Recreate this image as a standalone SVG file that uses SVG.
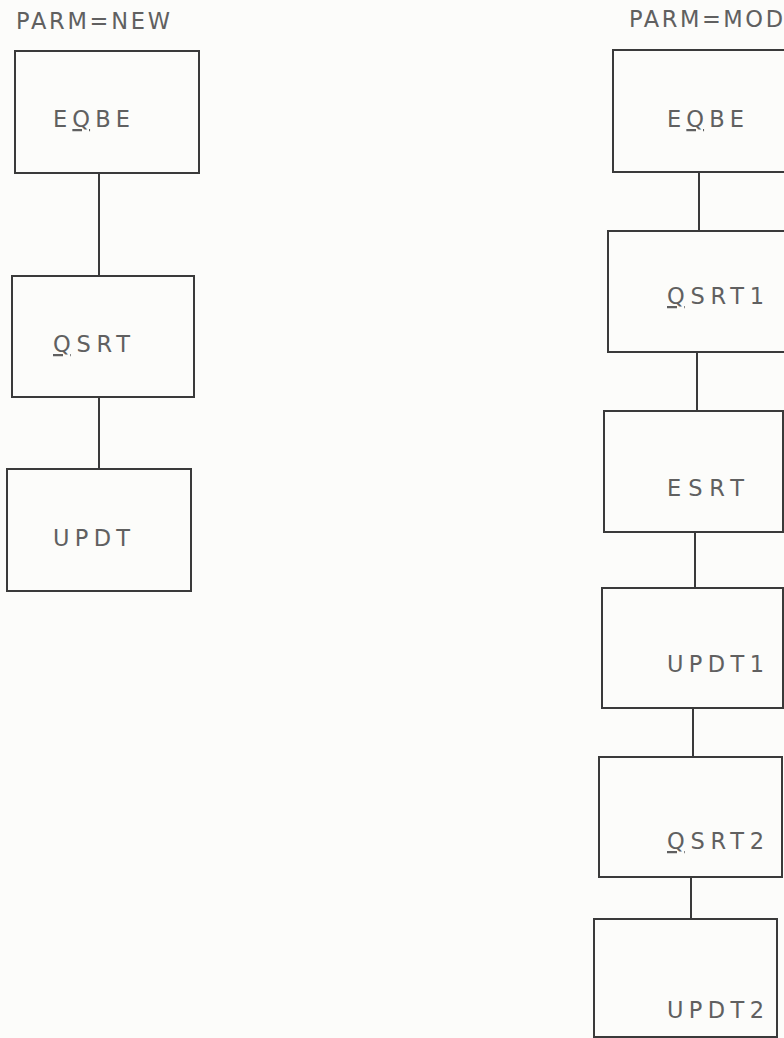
<svg xmlns="http://www.w3.org/2000/svg" width="784" height="1038" viewBox="0 0 784 1038">
<style>
  .bg { fill: #fcfcfa; }
  .box { fill: none; stroke: #3a3a3a; stroke-width: 2; }
  .conn { stroke: #3a3a3a; stroke-width: 2; fill: none; }
  .lbl { font-family: "DejaVu Sans", "Liberation Sans", sans-serif; font-size: 22.5px; fill: #606060; }
  .u { text-decoration: underline; }
</style>
<rect class="bg" x="0" y="0" width="784" height="1038"/>
<text class="lbl" x="16" y="29" textLength="154" lengthAdjust="spacing">PARM=NEW</text>
<text class="lbl" x="629" y="27" textLength="154" lengthAdjust="spacing">PARM=MOD</text>
<g id="connectors">
  <line class="conn" x1="99" y1="173" x2="99" y2="276"/>
  <line class="conn" x1="99" y1="397" x2="99" y2="469"/>
  <line class="conn" x1="699" y1="172" x2="699" y2="231"/>
  <line class="conn" x1="697" y1="352" x2="697" y2="411"/>
  <line class="conn" x1="695" y1="532" x2="695" y2="588"/>
  <line class="conn" x1="693" y1="708" x2="693" y2="757"/>
  <line class="conn" x1="691" y1="877" x2="691" y2="919"/>
</g>
<g id="new-eqbe">
  <rect class="box" x="15" y="51" width="184" height="122"/>
  <text class="lbl" x="53" y="127" textLength="77" lengthAdjust="spacing">E<tspan class="u">Q</tspan>BE</text>
</g>
<g id="new-qsrt">
  <rect class="box" x="12" y="276" width="182" height="121"/>
  <text class="lbl" x="53" y="352" textLength="77" lengthAdjust="spacing"><tspan class="u">Q</tspan>SRT</text>
</g>
<g id="new-updt">
  <rect class="box" x="7" y="469" width="184" height="122"/>
  <text class="lbl" x="53" y="546" textLength="77" lengthAdjust="spacing">UPDT</text>
</g>
<g id="mod-eqbe">
  <rect class="box" x="613" y="50" width="200" height="122"/>
  <text class="lbl" x="667" y="127" textLength="77" lengthAdjust="spacing">E<tspan class="u">Q</tspan>BE</text>
</g>
<g id="mod-qsrt1">
  <rect class="box" x="608" y="231" width="200" height="121"/>
  <text class="lbl" x="667" y="304" textLength="97" lengthAdjust="spacing"><tspan class="u">Q</tspan>SRT1</text>
</g>
<g id="mod-esrt">
  <rect class="box" x="604" y="411" width="179" height="121"/>
  <text class="lbl" x="667" y="496" textLength="77" lengthAdjust="spacing">ESRT</text>
</g>
<g id="mod-updt1">
  <rect class="box" x="602" y="588" width="181" height="120"/>
  <text class="lbl" x="667" y="672" textLength="97" lengthAdjust="spacing">UPDT1</text>
</g>
<g id="mod-qsrt2">
  <rect class="box" x="599" y="757" width="183" height="120"/>
  <text class="lbl" x="667" y="849" textLength="97" lengthAdjust="spacing"><tspan class="u">Q</tspan>SRT2</text>
</g>
<g id="mod-updt2">
  <rect class="box" x="594" y="919" width="183" height="118"/>
  <text class="lbl" x="667" y="1018" textLength="97" lengthAdjust="spacing">UPDT2</text>
</g>
</svg>
